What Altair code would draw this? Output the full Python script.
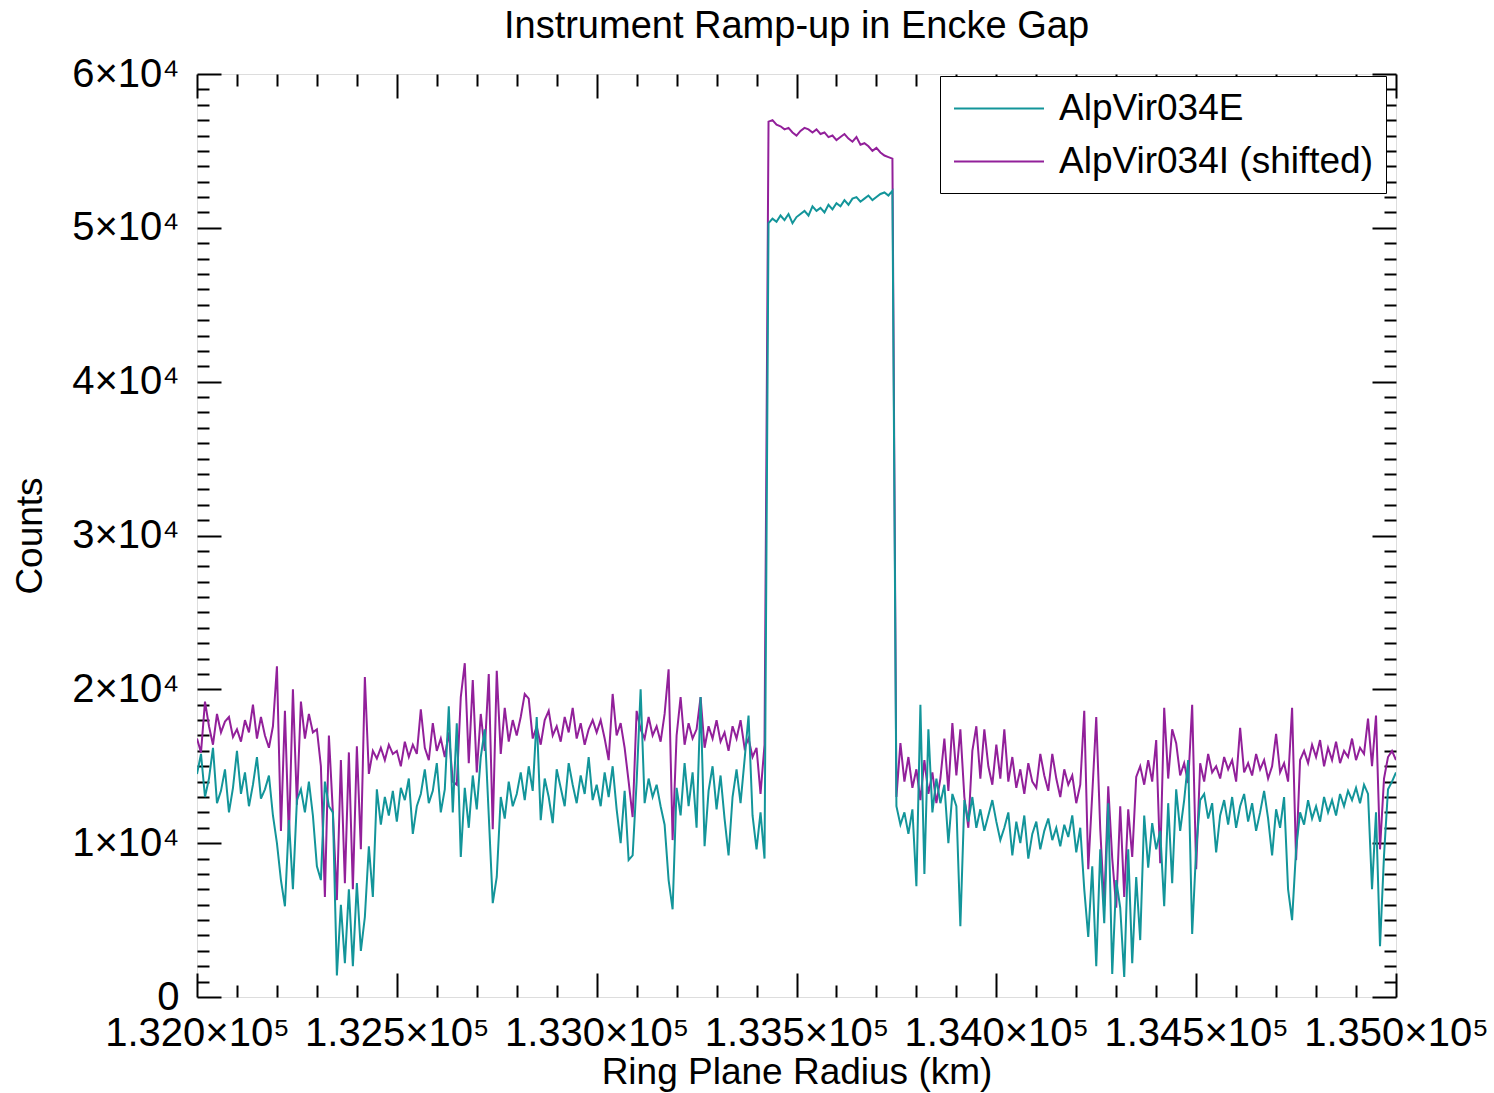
import altair as alt
import pandas as pd

# Radius grid (km) and counts for both occultation profiles, in thousands of counts
r_start = 132000
r_step = 10

counts_e_k = [
    14.5, 15.8, 13.0, 14.2, 16.2, 12.6, 13.4, 14.8, 12.0, 13.6,
    16.0, 13.2, 14.6, 12.4, 13.8, 15.6, 12.9, 13.5, 14.4, 11.8,
    10.0, 7.6, 5.9, 11.5, 7.0, 12.8, 13.5, 12.0, 14.0, 11.8,
    8.5, 7.6, 14.0, 12.4, 12.0, 1.4, 6.0, 2.2, 7.0, 2.0,
    7.4, 3.0, 5.2, 9.8, 6.5, 13.5, 11.2, 13.0, 11.8, 13.4,
    11.4, 13.6, 12.8, 14.2, 10.6, 12.4, 13.2, 14.8, 12.6, 13.4,
    15.2, 12.0, 13.5, 18.9, 12.0, 17.8, 9.1, 13.6, 11.0, 14.4,
    12.2, 15.6, 17.4, 11.8, 6.1, 7.8, 13.0, 11.6, 14.0, 12.4,
    13.2, 14.6, 12.8, 15.0, 13.4, 18.2, 11.5, 14.2, 13.0, 11.3,
    14.8, 13.6, 12.4, 15.2, 13.8, 12.6, 14.4, 13.2, 15.6, 12.8,
    13.8, 12.4, 14.6, 13.0, 15.0, 12.2, 10.0, 13.4, 8.9, 9.2,
    14.0, 20.0, 12.6, 14.2, 13.0, 13.8, 12.4, 11.2, 7.6, 5.7,
    13.6, 11.8, 15.2, 12.4, 14.6, 11.0, 19.5, 9.8, 13.4, 15.0,
    12.2, 14.4, 11.6, 9.2, 13.0, 14.8, 12.6, 15.4, 18.3, 11.8,
    9.6, 12.0, 9.0, 50.3, 50.6, 50.4, 50.8, 50.5, 50.9, 50.3,
    50.7, 50.9, 51.1, 50.8, 51.4, 51.1, 51.3, 51.0, 51.5, 51.2,
    51.6, 51.4, 51.8, 51.5, 51.9, 52.0, 51.7, 51.9, 52.1, 51.8,
    52.0, 52.2, 52.3, 52.1, 52.4, 12.4, 11.2, 12.0, 10.6, 12.2,
    7.2, 19.0, 8.0, 17.4, 12.0, 14.2, 12.6, 13.8, 10.0, 13.2,
    12.4, 4.6, 12.8, 11.4, 13.0, 11.0, 12.2, 10.8, 11.8, 12.8,
    11.4, 10.2, 11.0, 12.0, 9.2, 11.4, 10.0, 11.8, 9.0, 10.6,
    11.4, 9.6, 10.8, 11.6, 10.2, 11.0, 9.8, 11.2, 10.4, 11.8,
    9.4, 11.0, 7.0, 3.9, 8.5, 2.0, 9.6, 4.8, 12.6, 1.5,
    7.6, 5.8, 1.3, 9.6, 2.2, 7.8, 3.7, 11.8, 8.4, 11.3,
    9.6, 10.8, 5.9, 12.6, 7.4, 13.5, 10.8, 12.8, 15.4, 4.1,
    9.6, 12.8, 13.2, 11.6, 12.6, 9.4, 11.8, 12.8, 11.2, 13.0,
    11.0, 12.4, 13.2, 11.4, 12.6, 10.8, 12.0, 13.4, 11.6, 9.2,
    12.2, 11.0, 13.0, 7.0, 5.0, 9.6, 12.0, 11.2, 12.8, 11.6,
    12.4, 11.4, 13.0, 12.0, 12.8, 11.8, 13.2, 12.4, 13.4, 12.8,
    13.6, 12.6, 13.8, 13.2, 7.0, 12.0, 3.3, 9.2, 13.5, 14.0,
    14.6,
]

counts_i_k = [
    16.8, 15.9, 19.2, 17.6, 16.4, 18.4, 17.2, 17.9, 18.2, 16.9,
    17.4, 16.6, 18.0, 17.2, 19.0, 16.8, 18.2, 17.0, 16.2, 17.6,
    21.5, 10.8, 18.6, 10.3, 20.0, 12.5, 19.2, 16.8, 18.4, 17.2,
    17.4, 15.0, 6.5, 17.0, 12.0, 6.3, 15.4, 7.4, 15.9, 7.0,
    16.3, 9.6, 20.8, 14.5, 16.0, 15.5, 16.2, 15.4, 16.4, 15.8,
    16.0, 15.0, 16.6, 15.6, 16.4, 15.8, 18.7, 16.2, 15.4, 17.8,
    16.0, 16.8, 15.6, 17.2, 14.0, 13.8, 19.5, 21.7, 15.2, 20.6,
    14.6, 18.4, 16.0, 21.0, 10.9, 21.2, 15.8, 18.8, 16.6, 18.0,
    17.0, 18.2, 19.7, 19.4, 16.8, 17.6, 16.4, 18.0, 18.6, 17.0,
    17.6, 16.6, 18.2, 17.2, 18.8, 16.8, 17.8, 16.4, 17.4, 18.0,
    17.2, 18.0, 16.8, 15.4, 19.7, 17.0, 17.8, 16.2, 14.0, 11.7,
    18.6, 17.4, 16.8, 18.2, 17.0, 17.6, 16.6, 18.4, 21.3, 10.2,
    17.0, 19.5, 16.4, 17.8, 16.8, 17.4, 19.5, 16.2, 17.6, 16.8,
    18.0, 16.6, 17.2, 16.0, 17.6, 16.8, 18.0, 16.2, 16.8, 15.6,
    16.2, 13.2, 16.4, 56.9, 57.0, 56.7, 56.6, 56.4, 56.5, 56.2,
    56.0, 56.3, 56.5, 56.4, 56.2, 56.4, 56.1, 56.2, 55.9, 56.0,
    55.7, 55.9, 56.1, 55.8, 55.6, 55.9, 55.4, 55.5, 55.3, 55.0,
    55.2, 54.9, 54.7, 54.6, 54.5, 13.0, 16.5, 14.0, 15.6, 13.6,
    14.8, 12.8, 15.4, 13.2, 14.6, 12.6, 14.2, 16.8, 13.4, 17.8,
    14.4, 17.4, 13.0, 11.0, 16.0, 17.6, 14.2, 17.4, 15.0, 13.8,
    16.4, 14.2, 17.4, 14.0, 15.6, 13.6, 14.8, 13.2, 15.2, 14.0,
    13.6, 15.8, 14.4, 13.4, 15.8, 14.2, 13.0, 14.8, 13.8, 14.4,
    12.6, 13.8, 18.6, 8.3, 13.2, 18.2, 10.9, 5.9, 13.7, 9.0,
    5.8, 12.4, 6.5, 12.2, 9.1, 14.3, 15.0, 13.8, 15.4, 14.0,
    16.7, 8.7, 18.8, 14.2, 17.4, 16.5, 14.4, 15.2, 13.9, 19.0,
    8.3, 15.2, 14.0, 15.8, 14.6, 15.0, 14.2, 15.6, 14.8, 15.4,
    14.0, 17.5, 14.6, 15.2, 14.4, 15.8, 14.8, 15.4, 14.2, 15.0,
    17.1, 14.6, 15.2, 14.0, 18.8, 8.9, 15.4, 16.0, 15.2, 16.4,
    15.6, 16.7, 15.0, 16.2, 15.4, 16.6, 15.2, 16.0, 15.6, 16.8,
    15.4, 16.2, 15.8, 18.1, 15.0, 18.3, 9.6, 14.2, 15.6, 16.0,
    15.4,
]

assert len(counts_e_k) == len(counts_i_k) == 301

radius_km = [r_start + r_step * i for i in range(len(counts_e_k))]

series_names = ["AlpVir034E", "AlpVir034I (shifted)"]
series_colors = ["#13959a", "#92209a"]

x_major = [132000, 132500, 133000, 133500, 134000, 134500, 135000]
x_minor = [v for v in range(132000, 135001, 100) if v % 500]
y_major = [0, 10000, 20000, 30000, 40000, 50000, 60000]
y_minor = [v for v in range(0, 60001, 1000) if v % 10000]

df_e = pd.DataFrame({"radius": radius_km,
                     "counts": [v * 1000 for v in counts_e_k],
                     "series": series_names[0]})
df_i = pd.DataFrame({"radius": radius_km,
                     "counts": [v * 1000 for v in counts_i_k],
                     "series": series_names[1]})

FONT = "Liberation Sans"
FS = 37        # titles and legend
FS_TICK = 40   # tick labels
W, H = 1199, 923

xs = alt.Scale(domain=[132000, 135000], nice=False, zero=False)
ys = alt.Scale(domain=[0, 60000], nice=False, zero=False)
cs = alt.Scale(domain=series_names, range=series_colors)

# Legend line sample: a horizontal stroke 90 px long, drawn as a custom path
# so the row height follows the label size rather than the line length.
legend = alt.Legend(
    title=None, orient="none", legendX=743, legendY=2,
    symbolType="M-1,0L3.865,0", symbolSize=1369, symbolStrokeWidth=2,
    labelFont=FONT, labelFontSize=FS, labelColor="black", labelLimit=600,
    labelOffset=67, padding=13, rowPadding=15,
    strokeColor="black", fillColor="white",
)


def line_layer(df):
    return alt.Chart(df).mark_line(strokeWidth=2, clip=True).encode(
        x=alt.X("radius:Q", scale=xs, axis=None),
        y=alt.Y("counts:Q", scale=ys, axis=None),
        color=alt.Color("series:N", scale=cs, legend=legend),
    )


def tick_layer(values, channel, orient, size):
    # inward-pointing ticks: the axis is pulled inside the frame by its tick length
    ax = alt.Axis(orient=orient, values=values, labels=False, domain=False,
                  ticks=True, tickSize=size, tickWidth=2, tickColor="black",
                  offset=-size, title="", grid=False)
    d = pd.DataFrame({"v": values})
    if channel == "x":
        enc = {"x": alt.X("v:Q", scale=xs, axis=ax)}
    else:
        enc = {"y": alt.Y("v:Q", scale=ys, axis=ax)}
    return alt.Chart(d).mark_rule(opacity=0).encode(**enc)


x_label_axis = alt.Axis(
    orient="bottom", values=x_major,
    labelExpr="format(datum.value / 100000, '.3f') + '×10⁵'",
    ticks=False, tickSize=0, domain=False, grid=False,
    labelFont=FONT, labelFontSize=FS_TICK, labelColor="black", labelPadding=16,
    labelFlush=False, labelOverlap=False, labelBound=False, labelLimit=400,
    title="Ring Plane Radius (km)", titleFont=FONT, titleFontSize=FS,
    titleFontWeight="normal", titleColor="black",
    titleX=W / 2, titleY=86, titleBaseline="alphabetic", titleAlign="center",
)
y_label_axis = alt.Axis(
    orient="left", values=y_major,
    labelExpr="datum.value == 0 ? '0' : format(datum.value / 10000, 'd') + '×10⁴'",
    ticks=False, tickSize=0, domain=False, grid=False,
    labelFont=FONT, labelFontSize=FS_TICK, labelColor="black", labelPadding=18,
    labelFlush=False, labelOverlap=False, labelBound=False, labelLimit=400,
    title="Counts", titleFont=FONT, titleFontSize=FS,
    titleFontWeight="normal", titleColor="black",
    titleX=-167, titleY=H / 2, titleAngle=270, titleBaseline="middle",
    titleAlign="center",
)

x_labels = alt.Chart(pd.DataFrame({"v": x_major})).mark_rule(opacity=0).encode(
    x=alt.X("v:Q", scale=xs, axis=x_label_axis))
y_labels = alt.Chart(pd.DataFrame({"v": y_major})).mark_rule(opacity=0).encode(
    y=alt.Y("v:Q", scale=ys, axis=y_label_axis))

chart = alt.layer(
    line_layer(df_i),
    line_layer(df_e),
    x_labels,
    y_labels,
    tick_layer(x_major, "x", "bottom", 24),
    tick_layer(x_minor, "x", "bottom", 12),
    tick_layer(x_major, "x", "top", 24),
    tick_layer(x_minor, "x", "top", 12),
    tick_layer(y_major, "y", "left", 24),
    tick_layer(y_minor, "y", "left", 12),
    tick_layer(y_major, "y", "right", 24),
    tick_layer(y_minor, "y", "right", 12),
).resolve_axis(
    x="independent", y="independent"
).properties(
    width=W, height=H,
    autosize=alt.AutoSizeParams(type="none"),
    padding={"left": 197, "top": 74, "right": 98, "bottom": 96},
    title=alt.TitleParams(
        "Instrument Ramp-up in Encke Gap", font=FONT, fontSize=38,
        fontWeight="normal", color="black", anchor="middle", frame="group",
        offset=8,
    ),
).configure_view(
    stroke="black", strokeWidth=2
).configure_legend(
    strokeWidth=2
).configure(background="white")

chart.save("out.html", embed_options={"renderer": "svg", "actions": False})
